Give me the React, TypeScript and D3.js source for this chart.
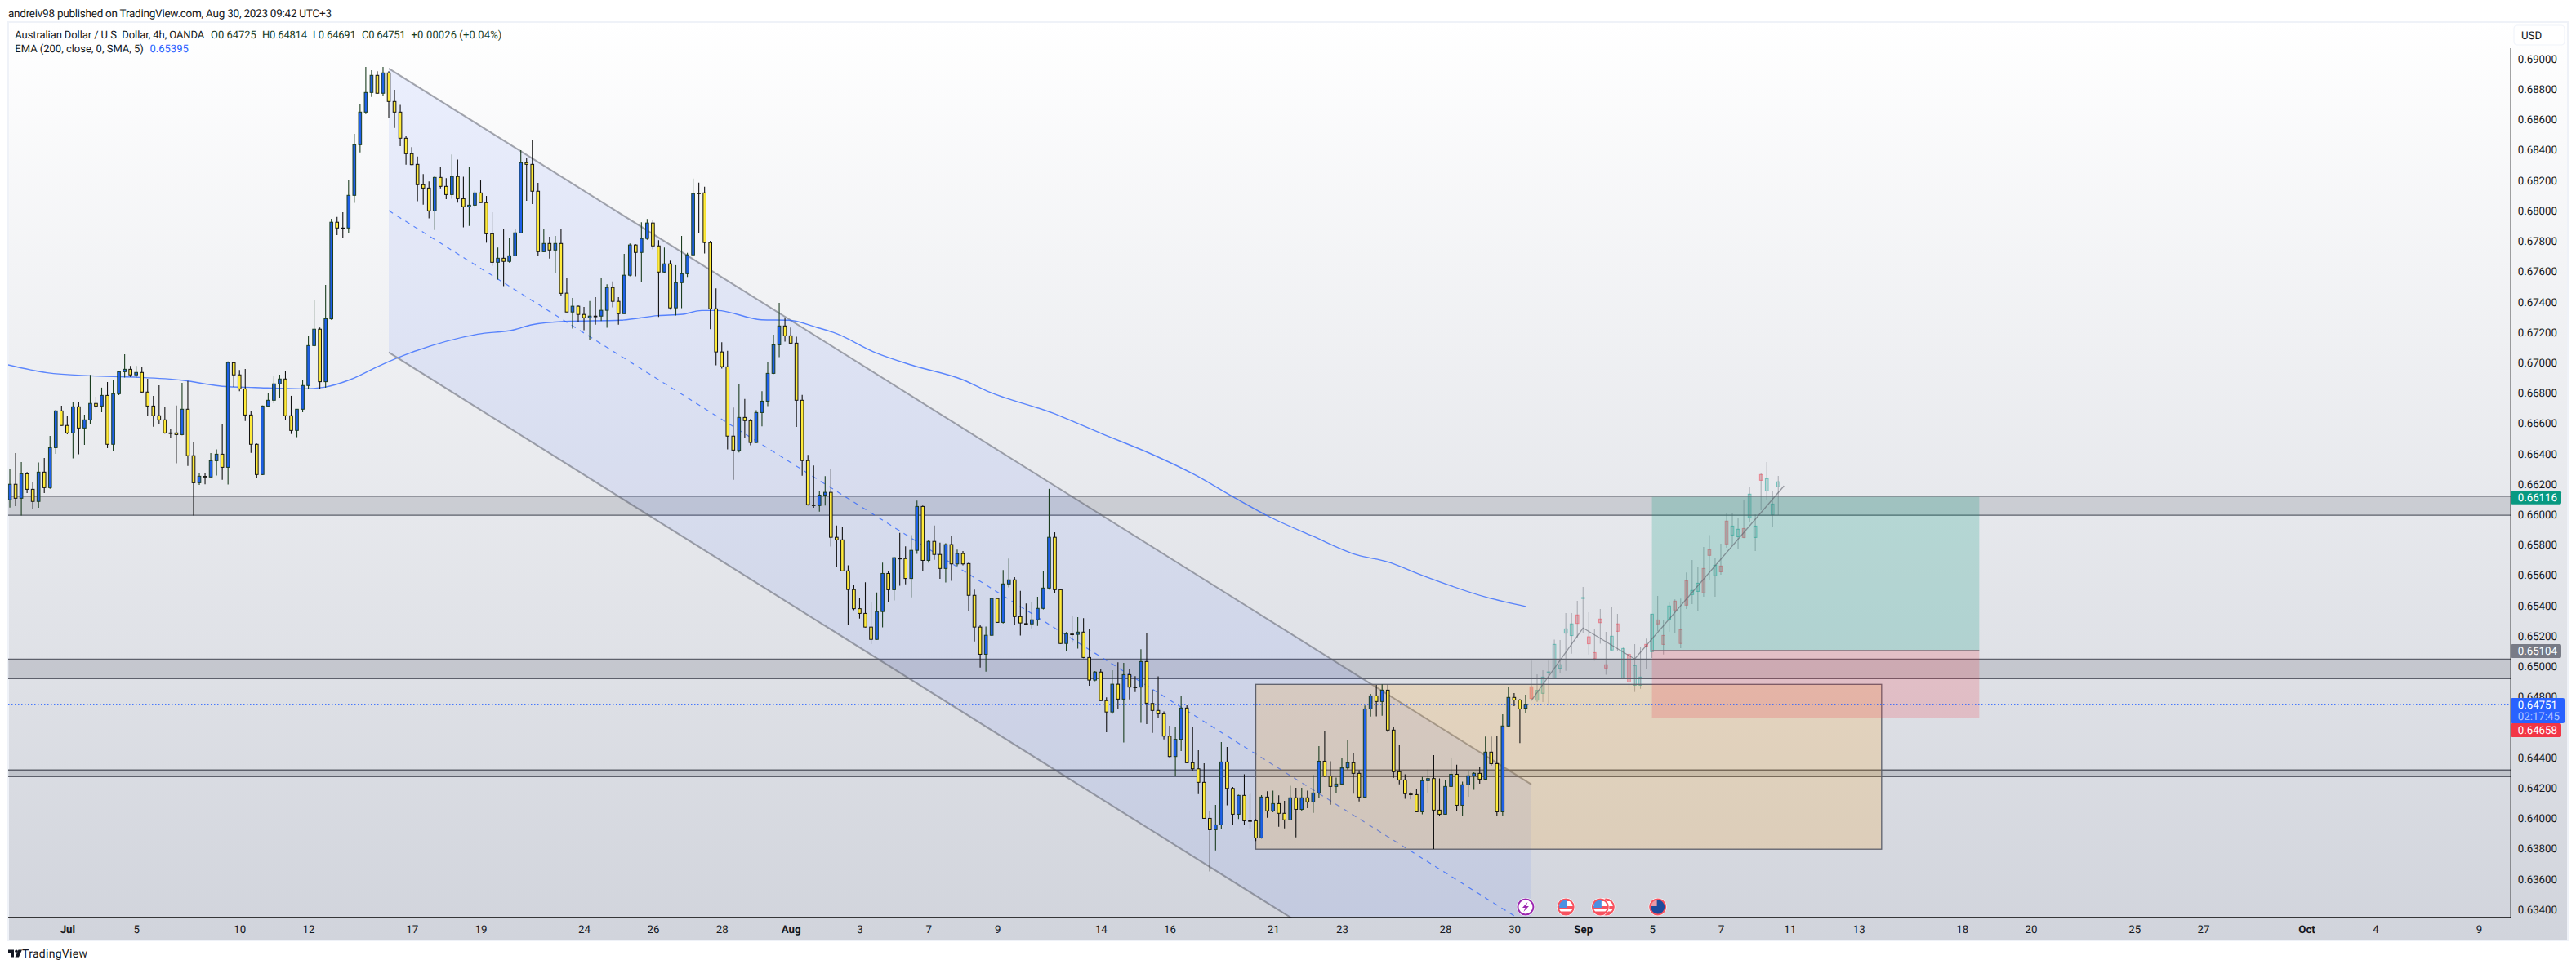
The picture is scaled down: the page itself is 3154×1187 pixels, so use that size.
import React from "react";
import * as d3 from "d3";

const WIDTH = 3154;
const HEIGHT = 1187;
const PLOT = { left: 10, top: 27, right: 3074, bottom: 1124, panelRight: 3144, panelBottom: 1152 };

// OHLC in price points (1 = 0.00001), one entry per 4h bar
const opens = [
  66097,66199,66107,66268,66166,66086,66279,66177,66440,66682,
  66586,66537,66709,66569,66623,66731,66714,66784,66462,66795,
  66940,66956,66919,66935,66806,66714,66650,66623,66537,66537,
  66526,66693,66387,66209,66251,66247,66354,66397,66311,66999,
  66919,66827,66655,66462,66263,66714,66752,66860,66892,66650,
  66553,66693,66849,67112,67220,66874,67288,67924,67886,67886,
  68101,68434,68649,68778,68891,68773,68907,68719,68649,68477,
  68375,68305,68171,68149,67999,68219,68160,68106,68225,68079,
  68026,68036,68117,68053,67848,67660,67687,67666,67703,67854,
  68316,68305,68128,67730,67784,67741,67784,67457,67333,67371,
  67317,67295,67306,67306,67344,67494,67403,67322,67575,67774,
  67725,67817,67919,67768,67596,67650,67360,67526,67585,67709,
  68116,68117,67790,67354,67070,66972,66516,66422,66639,66618,
  66474,66671,66746,66929,67117,67241,67176,67128,66752,66355,
  66063,66059,66128,66146,65850,65833,65629,65506,65380,65349,
  65259,65178,65361,65612,65505,65712,65710,65579,65764,66053,
  65698,65823,65737,65645,65802,65675,65743,65677,65468,65259,
  65080,65205,65447,65290,65543,65570,65328,65282,65280,65307,
  65382,65516,65850,65505,65151,65213,65211,65226,65059,64910,
  64963,64775,64700,64883,64785,64946,64864,64864,65032,64756,
  64710,64688,64541,64407,64520,64726,64366,64326,64237,64000,
  63925,63957,64371,64197,64027,64151,63984,63984,63871,64140,
  64049,64097,64033,63990,64135,64059,64135,64108,64167,64376,
  64278,64210,64226,64332,64366,64296,64140,64720,64806,64769,
  64844,64581,64307,64253,64160,64156,64043,64248,64262,64054,
  64027,64210,64290,64086,64221,64280,64296,64258,64436,64360,
  64043,64608,64796,64779,64725,
];
const highs = [
  66297,66405,66345,66279,66213,66342,66372,66517,66689,66716,
  66646,66738,66743,66657,66919,66775,66835,66872,66883,66947,
  67055,66978,66978,66969,66894,66781,66851,66706,66566,66718,
  66867,66879,66474,66276,66270,66405,66428,66593,67008,67005,
  66951,66958,66679,66467,66718,66802,66910,66920,66947,66781,
  66693,66883,67178,67415,67230,67512,67947,67959,67990,68199,
  68506,68705,68946,68925,68918,68946,68918,68796,68697,68491,
  68418,68357,68241,68192,68228,68285,68214,68370,68337,68223,
  68291,68133,68199,68097,67990,67757,67877,67823,67882,68398,
  68348,68468,68183,67877,67829,67834,67877,67555,67426,67376,
  67367,67405,67431,67560,67516,67534,67431,67716,67784,67779,
  67924,67945,67937,67806,67757,67671,67641,67834,67722,68211,
  68184,68157,67802,67489,67134,67077,66704,66856,66760,66629,
  66687,66812,67005,67184,67393,67295,67230,67170,66787,66393,
  66322,66153,66253,66297,65927,65921,65666,65539,65453,65554,
  65426,65487,65683,65625,65721,65879,65790,65865,66092,66059,
  65829,65927,65814,65810,65861,65769,65760,65683,65506,65270,
  65263,65449,65449,65635,65710,65587,65497,65414,65424,65458,
  65631,66169,65883,65512,65226,65334,65324,65318,65249,64969,
  64984,64796,64975,65027,65023,64984,64936,65113,65222,64846,
  64935,64704,64609,64604,64806,64747,64599,64448,64362,64049,
  64088,64502,64470,64206,64156,64290,64162,63995,64153,64179,
  64183,64151,64115,64215,64201,64201,64183,64285,64475,64577,
  64376,64269,64394,64518,64430,64317,64742,64819,64878,64882,
  64880,64604,64480,64290,64174,64196,64273,64321,64416,64263,
  64255,64398,64353,64242,64308,64303,64341,64538,64538,64545,
  64685,64867,64824,64785,64814,
];
const lows = [
  66046,66055,65993,66141,66034,66045,66141,66170,66399,66584,
  66528,66369,66396,66458,66593,66697,66673,66437,66417,66786,
  66901,66906,66901,66797,66646,66578,66593,66532,66503,66337,
  66521,66320,65993,66195,66199,66247,66256,66229,66197,66840,
  66811,66616,66406,66240,66260,66713,66732,66765,66620,66530,
  66509,66673,66826,67107,66826,66835,67282,67839,67820,67852,
  68051,68384,68636,68749,68769,68756,68613,68545,68425,68303,
  68300,68062,68040,67949,67873,68147,68076,68079,68053,67890,
  67900,68020,68053,67789,67637,67546,67503,67658,67700,67850,
  68065,68044,67703,67728,67685,67587,67438,67333,67224,67265,
  67213,67148,67250,67274,67229,67363,67250,67322,67568,67568,
  67530,67809,67745,67301,67591,67349,67310,67358,67564,67709,
  67856,67718,67220,66982,66960,66428,66229,66408,66501,66455,
  66470,66581,66714,66925,67036,67138,67126,66577,66255,66059,
  66044,66019,66059,65789,65654,65627,65270,65370,65315,65257,
  65146,65176,65257,65424,65434,65531,65541,65455,65741,65627,
  65683,65702,65577,65553,65564,65660,65666,65363,65165,64992,
  64965,65203,65288,65282,65520,65272,65203,65280,65251,65267,
  65376,65506,65482,65149,65102,65157,65117,65054,64873,64902,
  64773,64566,64687,64720,64500,64783,64831,64629,64620,64563,
  64661,64520,64402,64282,64443,64362,64308,64160,63999,63651,
  63789,63929,64085,63956,63995,63956,63929,63850,63866,64004,
  64040,63945,63934,63988,63875,64047,64067,64036,64135,64273,
  64090,64165,64222,64321,64162,64111,64135,64670,64672,64676,
  64568,64267,64224,64129,64124,64040,64027,64169,63798,64016,
  64025,64206,64045,64018,64142,64188,64228,64255,64348,64013,
  64013,64604,64738,64496,64691,
];
const closes = [
  66199,66107,66268,66166,66086,66279,66177,66440,66682,66586,
  66537,66709,66569,66623,66731,66714,66784,66462,66795,66940,
  66956,66919,66935,66806,66714,66650,66623,66537,66537,66526,
  66693,66387,66209,66252,66251,66354,66397,66311,67001,66919,
  66827,66655,66462,66263,66714,66752,66860,66892,66650,66553,
  66693,66849,67112,67220,66874,67289,67924,67886,67886,68101,
  68434,68649,68778,68891,68773,68907,68719,68649,68477,68375,
  68303,68171,68149,67999,68219,68160,68106,68225,68079,68026,
  68036,68117,68053,67848,67660,67687,67666,67703,67854,68316,
  68305,68128,67730,67784,67741,67784,67456,67333,67371,67317,
  67295,67306,67306,67344,67494,67403,67322,67575,67774,67725,
  67817,67919,67768,67596,67650,67360,67526,67585,67709,68112,
  68116,67790,67354,67070,66973,66516,66424,66639,66618,66474,
  66671,66746,66929,67117,67241,67176,67128,66752,66355,66065,
  66063,66128,66146,65850,65833,65629,65506,65380,65349,65259,
  65178,65361,65612,65505,65716,65712,65579,65764,66053,65698,
  65823,65737,65645,65802,65675,65743,65675,65468,65259,65080,
  65205,65447,65290,65543,65570,65328,65286,65282,65307,65382,
  65516,65850,65505,65151,65215,65213,65226,65059,64910,64963,
  64775,64700,64883,64785,64946,64864,64864,65032,64758,64710,
  64688,64541,64407,64520,64726,64366,64326,64237,64000,63925,
  63957,64371,64197,64027,64151,63984,63984,63871,64140,64049,
  64097,64033,63990,64135,64059,64135,64108,64167,64376,64278,
  64210,64226,64332,64366,64296,64140,64720,64806,64769,64844,
  64581,64307,64253,64162,64160,64043,64248,64262,64054,64027,
  64210,64290,64086,64221,64280,64296,64258,64436,64360,64043,
  64608,64796,64779,64720,64751,
];

// faded bars pattern projected after the last real bar (bars 266 to 309)
const ghostOpens = [
  64866,64778,64823,64964,64923,64988,65219,65203,65339,65453,65195,65091,65312,65011,65108,
  65280,64923,65079,64876,64876,65145,65097,65306,65204,65310,65430,65242,65564,65473,65494,
  65645,65769,65597,65661,65957,65865,65854,65908,65978,65849,66263,66155,65998,66182,
];
const ghostHighs = [
  65038,64948,64975,65038,65177,65174,65351,65351,65432,65523,65357,65249,65378,65228,65394,
  65346,65124,65091,65147,65125,65183,65346,65464,65308,65425,65441,65446,65618,65700,65652,
  65786,65865,65715,65808,66007,66012,65980,66098,66184,66001,66275,66345,66157,66254,
];
const ghostLows = [
  64783,64765,64765,64756,64923,64959,64971,65084,65186,65217,65079,65038,65149,64945,65106,
  65102,64921,64851,64832,64853,64980,65056,65231,65079,65228,65217,65120,65378,65410,65362,
  65459,65566,65459,65604,65781,65801,65776,65844,65951,65760,66028,66098,65921,65996,
];
const ghostCloses = [
  64789,64842,64930,64964,65145,65011,65247,65280,65283,65453,65149,65052,65288,64989,65199,
  65231,65118,64898,65005,64930,65133,65344,65280,65145,65398,65371,65151,65403,65500,65548,
  65484,65731,65666,65623,65806,65924,65903,65849,66134,65924,66225,66236,66069,66215,
];
const GHOST_START = 266;

// EMA 200 knots: bar number and price
const emaBars = [0.7,7.5,15,22.8,31,38,43.7,52,55.8,60.3,65.3,71,82.5,88.8,91.8,97.6,107.4,113.9,118.2,121.5,124.2,131.9,136.7,141.5,144.7,151.8,158.2,166.9,171.3,182.6,191.3,200,207.4,214,220,227.9,235.7,241,247.1,258.2,265];
const emaValues = [0.66985,0.66933,0.66913,0.66904,0.66884,0.66844,0.66836,0.66827,0.66838,0.66888,0.66978,0.67067,0.67187,0.67216,0.67248,0.67271,0.67279,0.67309,0.67318,0.67343,0.67343,0.67282,0.67279,0.67232,0.67195,0.67065,0.66982,0.66888,0.66811,0.66668,0.6653,0.66395,0.66261,0.66118,0.65992,0.65858,0.65733,0.65688,0.65598,0.65455,0.65395];

const priceTicks = [0.69,0.688,0.686,0.684,0.682,0.68,0.678,0.676,0.674,0.672,0.67,0.668,0.666,0.664,0.662,0.66,0.658,0.656,0.654,0.652,0.65,0.648,0.646,0.644,0.642,0.64,0.638,0.636,0.634];
const timeLabels = ["Jul","5","10","12","17","19","24","26","28","Aug","3","7","9","14","16","21","23","28","30","Sep","5","7","11","13","18","20","25","27","Oct","4","9"];
const timeDays = [0,2,5,7,10,12,15,17,19,21,23,25,27,30,32,35,37,40,42,44,46,48,50,52,55,57,60,62,65,67,70];
const MONTHS = ["Jul", "Aug", "Sep", "Oct"];

// horizontal grey zones [top, bottom]
const zones = [[0.66121, 0.65995], [0.65048, 0.6492], [0.64318, 0.64275]];

// descending channel: first bar, last bar, and the prices of the three lines at each end
const channelBars = [67, 266];
const channelTop = [0.68936, 0.64223];
const channelMid = [0.68, 0.63287];
const channelBottom = [0.67067, 0.62354];

const rangeBox = { bars: [218, 327], prices: [0.64882, 0.63797] };
const longBox = { bars: [287, 344], target: 0.66116, entry: 0.65104, stop: 0.64658 };
const lastPrice = 0.64751;

const projectionBars = [266, 275, 284, 310];
const projectionPrices = [0.64775, 0.65253, 0.65049, 0.66188];

const eventBars = [265, 272, 279, 278, 288];
const eventKinds = ["bolt", "us", "us", "us", "au"];

const FONT = "Roboto, 'Liberation Sans', sans-serif";
const TEXT = "#131722";
const UP_COLOR = "#1e60e8";
const UP_BORDER = "#1b3d1f";
const DOWN_COLOR = "#ffeb3b";
const DOWN_BORDER = "#111111";

const App = () => {
  const svgRef = React.useRef(null);

  React.useEffect(() => {
    const xScale = d3.scaleLinear().domain([0, 450]).range([5, 5 + 7.03 * 450]);
    const yScale = d3.scaleLinear().domain([0.69, 0.644]).range([72, 928]);
    const py = (points: number) => yScale(points / 1e5);

    const svg = d3.select(svgRef.current);
    svg.selectAll("*").remove();

    const defs = svg.append("defs");
    const bg = defs
      .append("linearGradient")
      .attr("id", "panelBg")
      .attr("x1", 0)
      .attr("x2", 0)
      .attr("y1", 0)
      .attr("y2", 1);
    bg.append("stop").attr("offset", 0).attr("stop-color", "#ffffff");
    bg.append("stop").attr("offset", 1).attr("stop-color", "#d1d4dc");
    defs
      .append("clipPath")
      .attr("id", "plotClip")
      .append("rect")
      .attr("x", PLOT.left)
      .attr("y", PLOT.top)
      .attr("width", PLOT.right - PLOT.left)
      .attr("height", PLOT.bottom - PLOT.top);

    // page texts
    svg.append("rect").attr("width", WIDTH).attr("height", HEIGHT).attr("fill", "#ffffff");
    svg
      .append("text")
      .attr("x", 10)
      .attr("y", 20.5)
      .attr("font-size", 13.5)
      .attr("font-family", FONT)
      .attr("fill", TEXT)
      .attr("textLength", 396)
      .text("andreiv98 published on TradingView.com, Aug 30, 2023 09:42 UTC+3");

    svg
      .append("rect")
      .attr("x", PLOT.left)
      .attr("y", PLOT.top)
      .attr("width", PLOT.panelRight - PLOT.left)
      .attr("height", PLOT.panelBottom - PLOT.top)
      .attr("fill", "url(#panelBg)")
      .attr("stroke", "#eff2f8")
      .attr("stroke-width", 2);

    const plot = svg.append("g").attr("clip-path", "url(#plotClip)");

    // Faded projected bars go under the position boxes
    const ghost = plot.append("g");
    ghostOpens.forEach((o, i) => {
      const c = ghostCloses[i];
      const x = xScale(GHOST_START + i);
      const up = c >= o;
      ghost
        .append("line")
        .attr("x1", x)
        .attr("x2", x)
        .attr("y1", py(ghostHighs[i]))
        .attr("y2", py(ghostLows[i]))
        .attr("stroke", "rgba(90,95,105,0.42)")
        .attr("stroke-width", 1.1);
      ghost
        .append("rect")
        .attr("x", x - 1.8)
        .attr("width", 3.6)
        .attr("y", py(Math.max(o, c)))
        .attr("height", Math.max(1, Math.abs(py(o) - py(c))))
        .attr("fill", up ? "rgba(38,166,154,0.12)" : "rgba(242,54,69,0.22)")
        .attr("stroke", up ? "rgba(38,166,154,0.6)" : "rgba(235,70,85,0.55)")
        .attr("stroke-width", 1);
    });

    // Grey zones
    zones.forEach(([top, bottom]) => {
      plot
        .append("rect")
        .attr("x", PLOT.left)
        .attr("width", PLOT.right - PLOT.left)
        .attr("y", yScale(top))
        .attr("height", yScale(bottom) - yScale(top))
        .attr("fill", "rgba(120,123,134,0.25)");
      [top, bottom].forEach((p) => {
        plot
          .append("line")
          .attr("x1", PLOT.left)
          .attr("x2", PLOT.right)
          .attr("y1", yScale(p))
          .attr("y2", yScale(p))
          .attr("stroke", "#5d606b")
          .attr("stroke-width", 1.3);
      });
    });

    // Channel
    const [barA, barB] = channelBars;
    plot
      .append("path")
      .attr(
        "d",
        d3.line()([
          [xScale(barA), yScale(channelTop[0])],
          [xScale(barB), yScale(channelTop[1])],
          [xScale(barB), yScale(channelBottom[1])],
          [xScale(barA), yScale(channelBottom[0])],
        ]) + "Z"
      )
      .attr("fill", "rgba(41,98,255,0.085)");
    [channelTop, channelBottom].forEach((prices) => {
      plot
        .append("line")
        .attr("x1", xScale(barA))
        .attr("x2", xScale(barB))
        .attr("y1", yScale(prices[0]))
        .attr("y2", yScale(prices[1]))
        .attr("stroke", "rgba(93,96,107,0.55)")
        .attr("stroke-width", 2);
    });
    plot
      .append("line")
      .attr("x1", xScale(barA))
      .attr("x2", xScale(barB))
      .attr("y1", yScale(channelMid[0]))
      .attr("y2", yScale(channelMid[1]))
      .attr("stroke", "#2962ff")
      .attr("stroke-opacity", 0.75)
      .attr("stroke-width", 1.2)
      .attr("stroke-dasharray", "6 6");

    // Orange range box
    plot
      .append("rect")
      .attr("x", xScale(rangeBox.bars[0]))
      .attr("width", xScale(rangeBox.bars[1]) - xScale(rangeBox.bars[0]))
      .attr("y", yScale(rangeBox.prices[0]))
      .attr("height", yScale(rangeBox.prices[1]) - yScale(rangeBox.prices[0]))
      .attr("fill", "rgba(255,152,0,0.17)")
      .attr("stroke", "#5d606b")
      .attr("stroke-width", 1.3);

    // Long position: target and stop areas
    const longX = xScale(longBox.bars[0]);
    const longW = xScale(longBox.bars[1]) - longX;
    plot
      .append("rect")
      .attr("x", longX)
      .attr("width", longW)
      .attr("y", yScale(longBox.target))
      .attr("height", yScale(longBox.entry) - yScale(longBox.target))
      .attr("fill", "rgba(8,153,129,0.22)");
    plot
      .append("rect")
      .attr("x", longX)
      .attr("width", longW)
      .attr("y", yScale(longBox.entry))
      .attr("height", yScale(longBox.stop) - yScale(longBox.entry))
      .attr("fill", "rgba(242,54,69,0.2)");
    plot
      .append("line")
      .attr("x1", longX)
      .attr("x2", longX + longW)
      .attr("y1", yScale(longBox.entry))
      .attr("y2", yScale(longBox.entry))
      .attr("stroke", "#8a6a76")
      .attr("stroke-width", 1.3);

    // EMA
    const emaLine = d3
      .line<number>()
      .x((d) => xScale(d))
      .y((_, i) => yScale(emaValues[i]))
      .curve(d3.curveMonotoneX);
    plot
      .append("path")
      .attr("d", emaLine(emaBars))
      .attr("fill", "none")
      .attr("stroke", "#2962ff")
      .attr("stroke-opacity", 0.75)
      .attr("stroke-width", 1.4);

    // Projection polyline
    const projection = d3
      .line<number>()
      .x((d) => xScale(d))
      .y((_, i) => yScale(projectionPrices[i]));
    plot
      .append("path")
      .attr("d", projection(projectionBars))
      .attr("fill", "none")
      .attr("stroke", "rgba(93,96,107,0.6)")
      .attr("stroke-width", 1.3);

    // Last price line
    plot
      .append("line")
      .attr("x1", PLOT.left)
      .attr("x2", PLOT.right)
      .attr("y1", yScale(lastPrice))
      .attr("y2", yScale(lastPrice))
      .attr("stroke", "#2962ff")
      .attr("stroke-width", 1)
      .attr("stroke-dasharray", "1.5 2.5");

    // Candles
    const candles = plot.append("g");
    opens.forEach((o, i) => {
      const c = closes[i];
      const x = xScale(i + 1);
      const up = c > o;
      const border = up ? UP_BORDER : DOWN_BORDER;
      candles
        .append("line")
        .attr("x1", x)
        .attr("x2", x)
        .attr("y1", py(highs[i]))
        .attr("y2", py(lows[i]))
        .attr("stroke", border)
        .attr("stroke-width", 1.1);
      candles
        .append("rect")
        .attr("x", x - 1.8)
        .attr("width", 3.6)
        .attr("y", py(Math.max(o, c)))
        .attr("height", Math.max(0.8, Math.abs(py(o) - py(c))))
        .attr("fill", up ? UP_COLOR : DOWN_COLOR)
        .attr("stroke", border)
        .attr("stroke-width", 1);
    });

    // Axes
    svg
      .append("line")
      .attr("x1", PLOT.right + 0.3)
      .attr("x2", PLOT.right + 0.3)
      .attr("y1", 59)
      .attr("y2", PLOT.bottom)
      .attr("stroke", "#000000")
      .attr("stroke-width", 1.3);
    svg
      .append("line")
      .attr("x1", PLOT.left)
      .attr("x2", PLOT.right)
      .attr("y1", PLOT.bottom)
      .attr("y2", PLOT.bottom)
      .attr("stroke", "#000000")
      .attr("stroke-width", 1.3);

    const yAxis = d3
      .axisRight(yScale)
      .tickValues(priceTicks)
      .tickSize(0)
      .tickPadding(8.7)
      .tickFormat((v) => (v as number).toFixed(5));
    const yAxisGroup = svg.append("g").attr("transform", `translate(${PLOT.right},0)`).call(yAxis);
    yAxisGroup.select(".domain").remove();
    yAxisGroup.selectAll("text").attr("fill", TEXT).attr("font-size", 13.3).attr("font-family", FONT);

    const tickBars = timeDays.map((d) => 11 + 6 * d);
    const xAxis = d3
      .axisBottom(xScale)
      .tickValues(tickBars)
      .tickSize(0)
      .tickPadding(10)
      .tickFormat((_, i) => timeLabels[i]);
    const xAxisGroup = svg.append("g").attr("transform", `translate(0,${PLOT.bottom})`).call(xAxis);
    xAxisGroup.select(".domain").remove();
    xAxisGroup
      .selectAll("text")
      .attr("fill", TEXT)
      .attr("font-size", 13.3)
      .attr("font-family", FONT)
      .attr("font-weight", (_, i) => (MONTHS.includes(timeLabels[i]) ? 700 : 400));

    // Currency button
    svg
      .append("rect")
      .attr("x", 3078)
      .attr("y", 31)
      .attr("width", 62)
      .attr("height", 24)
      .attr("rx", 4)
      .attr("fill", "#ffffff")
      .attr("stroke", "#f0f3fa")
      .attr("stroke-width", 1.2);
    svg
      .append("text")
      .attr("x", 3087)
      .attr("y", 47.5)
      .attr("font-size", 13.3)
      .attr("font-family", FONT)
      .attr("fill", TEXT)
      .text("USD");

    // Price labels on the scale
    const priceLabel = (top: number, h: number, w: number, fill: string) =>
      svg
        .append("rect")
        .attr("x", PLOT.right)
        .attr("y", top)
        .attr("width", w)
        .attr("height", h)
        .attr("rx", 2)
        .attr("fill", fill);
    const labelText = (y: number, s: string, fill = "#ffffff") =>
      svg
        .append("text")
        .attr("x", PLOT.right + 8.7)
        .attr("y", y)
        .attr("font-size", 13.3)
        .attr("font-family", FONT)
        .attr("fill", fill)
        .text(s);
    priceLabel(601.3, 16.5, 62, "#089981");
    labelText(614.3, "0.66116");
    priceLabel(789, 17, 62, "#787b86");
    labelText(802, "0.65104");
    priceLabel(855, 31, 66, "#2962ff");
    labelText(868.4, "0.64751");
    labelText(882.4, "02:17:45", "rgba(255,255,255,0.65)");
    priceLabel(886, 17, 62, "#f23645");
    labelText(899, "0.64658");

    // Legend
    const legend = [
      { x: 18.3, y: 47, w: 232, s: "Australian Dollar / U.S. Dollar, 4h, OANDA", fill: TEXT },
      { x: 258, y: 47, w: 55.8, s: "O0.64725", fill: UP_BORDER },
      { x: 321, y: 47, w: 55, s: "H0.64814", fill: UP_BORDER },
      { x: 383, y: 47, w: 52.7, s: "L0.64691", fill: UP_BORDER },
      { x: 443, y: 47, w: 53.6, s: "C0.64751", fill: UP_BORDER },
      { x: 503.6, y: 47, w: 110.7, s: "+0.00026 (+0.04%)", fill: UP_BORDER },
      { x: 18.3, y: 64, w: 157.6, s: "EMA (200, close, 0, SMA, 5)", fill: TEXT },
      { x: 183.5, y: 64, w: 47.3, s: "0.65395", fill: "#2962ff" },
    ];
    legend.forEach((d) => {
      svg
        .append("text")
        .attr("x", d.x)
        .attr("y", d.y)
        .attr("font-size", 13)
        .attr("font-family", FONT)
        .attr("fill", d.fill)
        .attr("textLength", d.w)
        .text(d.s);
    });

    // Event markers sitting on the time axis
    const iconY = 1111;
    eventKinds.forEach((kind, i) => {
      const g = svg.append("g").attr("transform", `translate(${xScale(eventBars[i])},${iconY})`);
      const clipId = `iconClip${i}`;
      defs.append("clipPath").attr("id", clipId).append("circle").attr("r", 9.5);
      g.append("circle").attr("r", 11).attr("fill", "#ffffff");
      if (kind === "bolt") {
        g.append("circle").attr("r", 9.5).attr("fill", "#ffffff").attr("stroke", "#9c27b0").attr("stroke-width", 2);
        g.append("path").attr("d", "M2.5 -6 L-4 1 L-0.5 1 L-2.5 6 L4 -1 L0.5 -1 Z").attr("fill", "#9c27b0");
        return;
      }
      const inner = g.append("g").attr("clip-path", `url(#${clipId})`);
      if (kind === "us") {
        inner.append("rect").attr("x", -10).attr("y", -10).attr("width", 20).attr("height", 20).attr("fill", "#ffffff");
        inner.append("rect").attr("x", -10).attr("y", -1).attr("width", 20).attr("height", 3.5).attr("fill", "#f7525f");
        inner.append("rect").attr("x", -10).attr("y", 5.5).attr("width", 20).attr("height", 4.5).attr("fill", "#f7525f");
        inner.append("rect").attr("x", -10).attr("y", -10).attr("width", 20).attr("height", 3).attr("fill", "#f7525f");
        inner.append("rect").attr("x", -8).attr("y", -8).attr("width", 9.5).attr("height", 9).attr("fill", "#4a90e2");
      } else {
        inner.append("rect").attr("x", -10).attr("y", -10).attr("width", 20).attr("height", 20).attr("fill", "#1e4b9c");
        inner.append("rect").attr("x", -10).attr("y", -10).attr("width", 9).attr("height", 9).attr("fill", "#e99aa6");
      }
      g.append("circle").attr("r", 9.5).attr("fill", "none").attr("stroke", "#f7525f").attr("stroke-width", 2);
    });

    // TradingView mark
    const logo = svg.append("g").attr("transform", "translate(10,1163.5)").attr("fill", "#131722");
    logo.append("path").attr("d", "M0 0 H7 V9 H3.5 V3.5 H0 Z");
    logo.append("circle").attr("cx", 10).attr("cy", 1.8).attr("r", 1.8);
    logo.append("path").attr("d", "M12.5 0 H17 L13 9 H8.5 Z");
    svg
      .append("text")
      .attr("x", 27)
      .attr("y", 1173)
      .attr("font-size", 14)
      .attr("font-family", FONT)
      .attr("fill", "#131722")
      .attr("textLength", 80)
      .text("TradingView");
  }, []);

  return (
    <svg
      ref={svgRef}
      width={WIDTH}
      height={HEIGHT}
      viewBox={`0 0 ${WIDTH} ${HEIGHT}`}
      style={{ position: "absolute", left: 0, top: 0, display: "block", textRendering: "geometricPrecision" }}
    />
  );
};

export default App;
